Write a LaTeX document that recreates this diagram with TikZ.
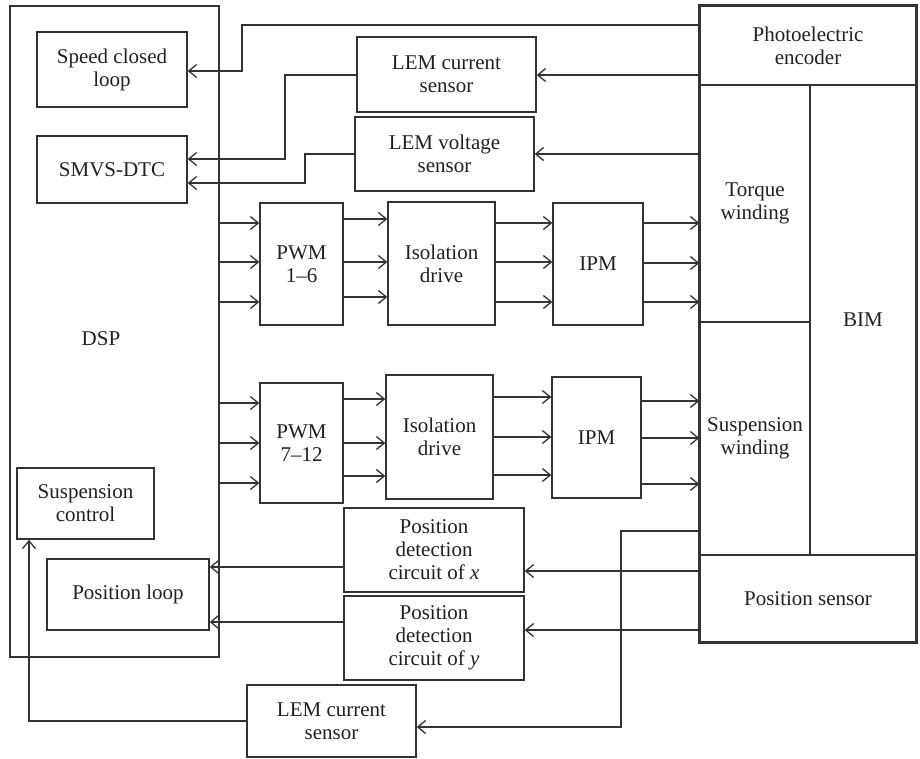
\documentclass[tikz,border=0pt]{standalone}
\usepackage{fontspec}
\setmainfont{Liberation Serif}
\usetikzlibrary{arrows.meta}
\definecolor{ln}{HTML}{333333}
\definecolor{tx}{HTML}{231F20}
\tikzset{
  box/.style={draw=ln, line width=1.3pt, inner sep=0pt, align=center, text=tx,
    font=\fontsize{21}{23}\selectfont},
  bigbox/.style={box, line width=2.4pt},
  lbl/.style={inner sep=0pt, align=center, text=tx, font=\fontsize{21}{23}\selectfont},
  arr/.style={draw=ln, line width=1.3pt, -{Straight Barb[length=8pt,width=13pt,line width=1.3pt]}},
  wire/.style={draw=ln, line width=1.3pt}
}
\newcommand{\bx}[7][box]{% style, name, x1,y1,x2,y2, text
  \node[#1, minimum width={(#5-#3)*1pt}, minimum height={(#6-#4)*1pt}] (#2) at ({(#3+#5)/2},{(#4+#6)/2}) {#7};}
\begin{document}
\begin{tikzpicture}[x=1pt,y=-1pt]
\useasboundingbox (0,0) rectangle (920,758);
% DSP
\bx[bigbox]{dsp}{10}{6}{219}{657}{}
\node[lbl] (dsplbl) at (101,339) {DSP};
\bx{speed}{37}{32}{187}{107}{Speed closed\\loop}
\bx{smvs}{37}{136}{187}{203}{SMVS-DTC}
\bx{susp}{17}{468}{154}{539}{Suspension\\control}
\bx{posloop}{47}{559}{209}{630}{Position loop}
% sensors
\bx{lemc}{357}{37}{536}{112}{LEM current\\sensor}
\bx{lemv}{355}{117}{534}{191}{LEM voltage\\sensor}
% power chain 1
\bx{pwmA}{260}{203}{343}{325}{PWM\\1–6}
\bx{isoA}{388}{202}{495}{325}{Isolation\\drive}
\bx{ipmA}{553}{203}{643}{325}{IPM}
% power chain 2
\bx{pwmB}{260}{383}{343}{503}{PWM\\7–12}
\bx{isoB}{386}{375}{493}{499}{Isolation\\drive}
\bx{ipmB}{552}{377}{641}{498}{IPM}
% position detection
\bx{pdx}{344}{508}{524}{592}{Position\\detection\\circuit of \textit{x}}
\bx{pdy}{344}{596}{524}{680}{Position\\detection\\circuit of \textit{y}}
\bx{lemb}{247}{685}{416}{757}{LEM current\\sensor}
% right block
\bx{tw}{700}{85}{810}{322}{Torque\\winding}
\bx{sw}{700}{322}{810}{555}{Suspension\\winding}
\bx{bim}{810}{85}{916}{555}{BIM}
\bx[bigbox]{enc}{700}{6}{916}{85}{Photoelectric\\encoder}
\bx[bigbox]{ps}{700}{555}{916}{642}{Position sensor}
\draw[ln, line width=2.4pt] (enc.north west) rectangle (ps.south east);
% connectors top
\draw[arr] (enc.west |- 0,25) -- (242,25) -- (242,71) -- (speed.east |- 0,71);
\draw[arr] (enc.west |- 0,75) -- (lemc.east |- 0,75);
\draw[arr] (lemc.west |- 0,75) -- (285,75) -- (285,159) -- (smvs.east |- 0,159);
\draw[arr] (tw.west |- 0,154) -- (lemv.east |- 0,154);
\draw[arr] (lemv.west |- 0,154) -- (305,154) -- (305,183) -- (smvs.east |- 0,183);
% chain 1
\foreach \y in {223,262,302} \draw[arr] (dsp.east |- 0,\y) -- (pwmA.west |- 0,\y);
\foreach \y in {219,262,297} \draw[arr] (pwmA.east |- 0,\y) -- (isoA.west |- 0,\y);
\foreach \y in {223,262,302} \draw[arr] (isoA.east |- 0,\y) -- (ipmA.west |- 0,\y);
\foreach \y in {223,263,302} \draw[arr] (ipmA.east |- 0,\y) -- (tw.west |- 0,\y);
% chain 2
\foreach \y in {403,443,483} \draw[arr] (dsp.east |- 0,\y) -- (pwmB.west |- 0,\y);
\foreach \y in {399,443,476} \draw[arr] (pwmB.east |- 0,\y) -- (isoB.west |- 0,\y);
\foreach \y in {397,437,475} \draw[arr] (isoB.east |- 0,\y) -- (ipmB.west |- 0,\y);
\foreach \y in {401,438,484} \draw[arr] (ipmB.east |- 0,\y) -- (sw.west |- 0,\y);
% position
\draw[arr] (ps.west |- 0,571) -- (pdx.east |- 0,571);
\draw[arr] (pdx.west |- 0,567) -- (posloop.east |- 0,567);
\draw[arr] (ps.west |- 0,630) -- (pdy.east |- 0,630);
\draw[arr] (pdy.west |- 0,622) -- (posloop.east |- 0,622);
% suspension current loop
\draw[arr] (sw.west |- 0,531) -- (621,531) -- (621,727) -- (lemb.east |- 0,727);
\draw[arr] (lemb.west |- 0,721) -- (29,721) -- (susp.south -| 29,0);
\end{tikzpicture}
\end{document}
